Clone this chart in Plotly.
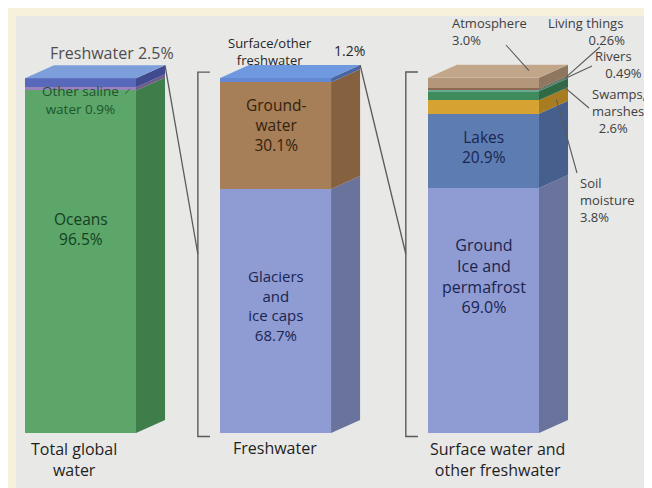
import plotly.graph_objects as go

# ---------------- data ----------------
BAR_NAMES = ["Total global<br>water", "Freshwater", "Surface water and<br>other freshwater"]

TOTAL_LABELS = ["Oceans", "Other saline water", "Freshwater"]
TOTAL_VALUES = [96.5, 0.9, 2.5]

FRESH_LABELS = ["Glaciers and ice caps", "Groundwater", "Surface/other freshwater"]
FRESH_VALUES = [68.7, 30.1, 1.2]

SURF_LABELS = ["Ground ice and permafrost", "Lakes", "Soil moisture", "Swamps, marshes",
               "Rivers", "Living things", "Atmosphere"]
SURF_VALUES = [69.0, 20.9, 3.8, 2.6, 0.49, 0.26, 3.0]

# ---------------- style ----------------
TOTAL_COLORS = ["#5ba668", "#9b82be", "#5868bb"]
TOTAL_SIDE = ["#3f7d4b", "#6e5b8c", "#3f4b8e"]
FRESH_COLORS = ["#8f9bd3", "#a67e57", "#6489d2"]
FRESH_SIDE = ["#69739b", "#85613f", "#4a66a0"]
SURF_COLORS = ["#8f9bd3", "#5d7db2", "#d6a332", "#3f8b5b", "#6aa898", "#8b6a4f", "#b4977a"]
SURF_SIDE = ["#69739b", "#465f8d", "#a87d22", "#2f6a45", "#4f8073", "#6a503b", "#8e7760"]
TOP_COLORS = ["#7c9edb", "#6e99df", "#c1a68a"]

BG = "#f7f0da"
PANEL = "#e8e8e7"
LINE = "#5a5a5a"
FONT = "Open Sans"
NB = "\u00a0"

POS = [0.0, 0.968, 2.0]
W = 0.551
DX = 0.144
DY = 3.66

# pixel helpers for placing text (layout only)
def X(px):
    return (px - 72.5) / 201.5

def Y(py):
    return (425 - py) / 3.55

fig = go.Figure()

groups = [
    (TOTAL_LABELS, TOTAL_VALUES, TOTAL_COLORS, TOTAL_SIDE),
    (FRESH_LABELS, FRESH_VALUES, FRESH_COLORS, FRESH_SIDE),
    (SURF_LABELS, SURF_VALUES, SURF_COLORS, SURF_SIDE),
]

tops = []
layer_geo = []
for gi, (labels, values, cols, sides) in enumerate(groups):
    base = 0.0
    xr = POS[gi] + W / 2
    xl = POS[gi] - W / 2
    geo = []
    for lab, v, c, s in zip(labels, values, cols, sides):
        fig.add_trace(go.Bar(x=[POS[gi]], y=[v], base=[base], width=W, name=lab,
                             marker=dict(color=c, line=dict(width=0)),
                             showlegend=False, hoverinfo="name"))
        t = base + v
        fig.add_trace(go.Scatter(x=[xr, xr + DX, xr + DX, xr, xr],
                                 y=[base, base + DY, t + DY, t, base],
                                 fill="toself", fillcolor=s, mode="lines",
                                 line=dict(width=0, color=s), showlegend=False,
                                 hoverinfo="skip"))
        geo.append((base, t))
        base = t
    tops.append(base)
    layer_geo.append(geo)
    fig.add_trace(go.Scatter(x=[xl, xl + DX, xr + DX, xr, xl],
                             y=[base, base + DY, base + DY, base, base],
                             fill="toself", fillcolor=TOP_COLORS[gi], mode="lines",
                             line=dict(width=0, color=TOP_COLORS[gi]), showlegend=False,
                             hoverinfo="skip"))

shapes = [dict(type="rect", xref="paper", yref="paper", x0=8 / 652, x1=1.0,
               y0=0, y1=1 - 8 / 488, fillcolor=PANEL, line=dict(width=0), layer="below")]

# brackets and zoom connector lines
YCONN = Y(246)
for gi in (1, 2):
    bx = POS[gi] - W / 2 - 0.11
    y0, y1 = -1.0, tops[gi] + DY * 0.45
    shapes.append(dict(type="path", xref="x", yref="y",
                       path=f"M {bx + 0.06},{y1} L {bx},{y1} L {bx},{y0} L {bx + 0.06},{y0}",
                       line=dict(color=LINE, width=1.4)))
    px = POS[gi - 1] + W / 2 + DX
    shapes.append(dict(type="line", xref="x", yref="y", x0=px, y0=tops[gi - 1] + DY,
                       x1=bx, y1=YCONN, line=dict(color=LINE, width=1.3), layer="above"))

# leader lines for the right-hand labels
xr3 = POS[2] + W / 2
g3 = layer_geo[2]
def side_pt(k, fx=0.75):
    b, t = g3[k]
    return xr3 + DX * fx, (b + t) / 2 + DY * fx

leaders = [
    ((X(498), Y(37)), (xr3 - 0.05, tops[2] + DY * 0.55)),   # atmosphere
    ((X(592), Y(39)), side_pt(5, 0.95)),                      # living things
    ((X(584), Y(58)), side_pt(4, 0.9)),                       # rivers
    ((X(581), Y(100)), side_pt(3, 0.8)),                      # swamps
    ((X(569), Y(165)), side_pt(2, 0.6)),                      # soil moisture
]
for (ax_, ay_), (tx, ty) in leaders:
    shapes.append(dict(type="line", xref="x", yref="y", x0=ax_, y0=ay_, x1=tx, y1=ty,
                       line=dict(color=LINE, width=1.1), layer="above"))

# small tick from "Other saline" label to its band
shapes.append(dict(type="line", xref="x", yref="y", x0=X(117), y0=Y(86), x1=X(122),
                   y1=(layer_geo[0][1][0] + layer_geo[0][1][1]) / 2,
                   line=dict(color="#2f6a3e", width=1)))

ann = []
def txt(x, py, text, size=15, color="#333333", xa="center", weight=400):
    ann.append(dict(x=x, y=Y(py), xref="x", yref="y", text=text, showarrow=False,
                    xanchor=xa, yanchor="middle", align="center" if xa == "center" else "left",
                    font=dict(family=FONT, size=size, color=color, weight=weight)))

# in-bar labels
GREEN_T = "#163f22"
BROWN_T = "#35220c"
BLUE_T = "#1a2550"
txt(POS[0], 92, f"{TOTAL_LABELS[1].replace(' water', '')}<br>water {TOTAL_VALUES[1]}%", 13.5, "#21542e")
txt(POS[0], 221, f"{TOTAL_LABELS[0]}<br>{TOTAL_VALUES[0]}%", 15.5, GREEN_T)
txt(POS[1], 117, f"Ground-<br>water<br>{FRESH_VALUES[1]}%", 15.5, BROWN_T)
txt(POS[1], 297, f"Glaciers<br>and<br>ice caps<br>{FRESH_VALUES[0]}%", 15, BLUE_T)
txt(POS[2], 139, f"{SURF_LABELS[1]}<br>{SURF_VALUES[1]}%", 15.5, BLUE_T)
txt(POS[2], 268, f"Ground<br>Ice and<br>permafrost<br>{SURF_VALUES[0]:.1f}%", 16, BLUE_T)

# header labels
txt(X(104), 45, f"{TOTAL_LABELS[2]} {TOTAL_VALUES[2]}%", 16, "#4e4e4e")
txt(X(262), 43, "Surface/other<br>freshwater", 13, "#262626")
txt(X(341), 42, f"{FRESH_VALUES[2]}%", 14, "#262626")

# bottom labels
txt(X(66), 451, BAR_NAMES[0], 16, "#1f1f1f")
txt(X(267), 440, BAR_NAMES[1], 16, "#1f1f1f")
txt(X(489), 451, BAR_NAMES[2], 16, "#1f1f1f")

# right-hand labels
RC = "#404040"
RS = 13
txt(X(442), 23, f"{SURF_LABELS[6]}<br>{SURF_VALUES[6]:.1f}%", RS, RC, "left")
txt(X(538), 23, f"{SURF_LABELS[5]}<br>{NB * 12}{SURF_VALUES[5]}%", RS, RC, "left")
txt(X(585), 56, f"{SURF_LABELS[4]}<br>{NB * 3}{SURF_VALUES[4]}%", RS, RC, "left")
txt(X(582), 103, f"Swamps,<br>marshes<br>{NB * 2}{SURF_VALUES[3]}%", RS, RC, "left")
txt(X(570), 192, f"Soil<br>moisture<br>{SURF_VALUES[2]}%", RS, RC, "left")

fig.update_layout(
    width=652, height=488,
    margin=dict(l=0, r=0, t=0, b=0),
    paper_bgcolor=BG, plot_bgcolor="rgba(0,0,0,0)",
    barmode="overlay", bargap=0,
    xaxis=dict(range=[X(0), X(652)], visible=False, fixedrange=True),
    yaxis=dict(range=[Y(488), Y(0)], visible=False, fixedrange=True),
    shapes=shapes, annotations=ann,
    font=dict(family=FONT),
)

fig.write_html("out.html")
